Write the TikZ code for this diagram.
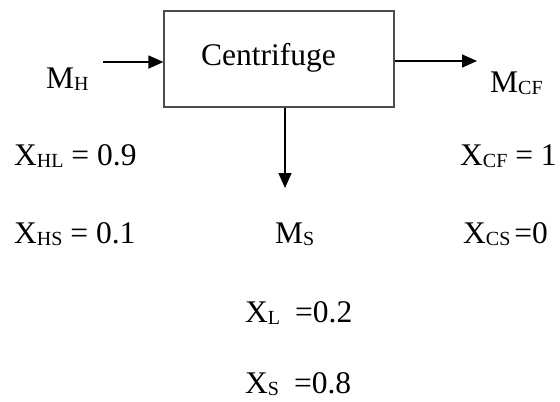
\documentclass[tikz,border=0pt]{standalone}
\usepackage{fontspec}
\setmainfont{Liberation Serif}
\usetikzlibrary{arrows.meta}
\newcommand\sbs[1]{\raisebox{-2bp}{\fontsize{20bp}{20bp}\selectfont #1}}
\begin{document}
\begin{tikzpicture}[x=1bp,y=-1bp,
  txt/.style={inner sep=0pt, anchor=base west, font=\fontsize{31.5bp}{36bp}\selectfont},
  flow/.style={line width=1.5bp, -{Triangle[length=15bp,width=13bp]}},
  unit/.style={draw=black!70, line width=1.2bp, minimum width=230bp, minimum height=96bp, inner sep=0pt}]
\useasboundingbox (0,0) rectangle (560,401);
\node[unit] (box) at (279,59) {};
\node[txt] (cf) at (201,65) {Centrifuge};
\coordinate (hStart) at (103,62);
\coordinate (cfEnd) at (477,61);
\coordinate (sEnd) at (285,188);
\draw[flow] (hStart) -- (hStart -| box.west);
\draw[flow] (cfEnd -| box.east) -- (cfEnd);
\draw[flow] (box.south -| sEnd) -- (sEnd);
\node[txt] (mh) at (46,88) {M\sbs{H}};
\node[txt] (mcf) at (490,92) {M\sbs{CF}};
\node[txt] (xhl) at (14,165) {X\sbs{HL} = 0.9};
\node[txt] (xcf) at (460,165) {X\sbs{CF} = 1};
\node[txt] (xhs) at (14,243) {X\sbs{HS} = 0.1};
\node[txt] (ms) at (275,243) {M\sbs{S}};
\node[txt] (xcs) at (463,243) {X\sbs{CS}\hspace{4bp}=0};
\node[txt] (xl) at (245,322) {X\sbs{L}\hspace{15bp}=0.2};
\node[txt] (xs) at (245,393) {X\sbs{S}\hspace{15bp}=0.8};
\end{tikzpicture}
\end{document}
